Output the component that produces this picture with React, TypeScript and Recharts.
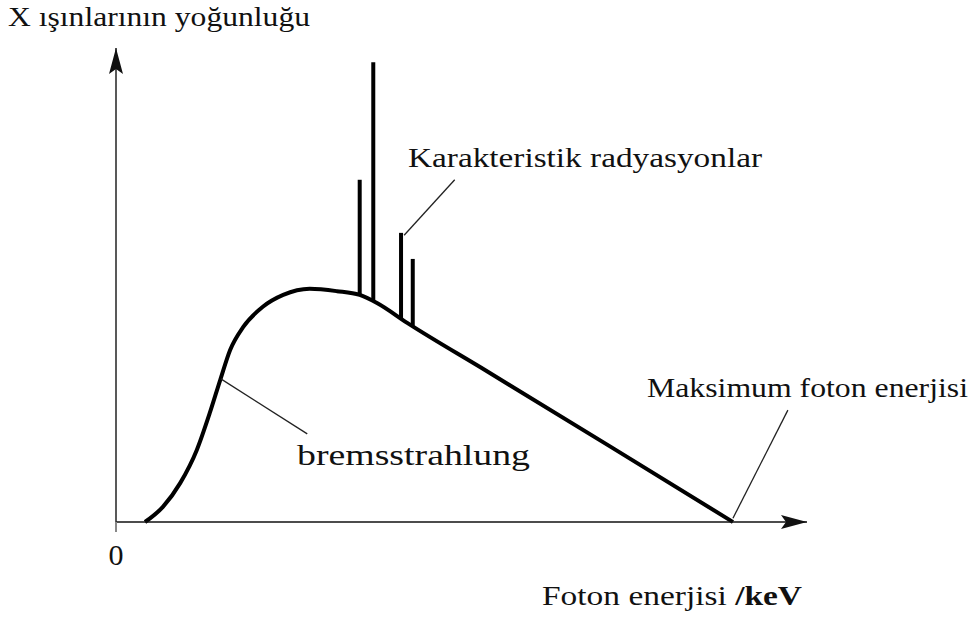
import { ComposedChart, Customized, Line, ReferenceLine, XAxis, YAxis } from 'recharts';

// bremsstrahlung continuum (energy in keV-ish units, intensity in arbitrary units)
const curveEnergy = [4.7, 7.6, 10.4, 13.1, 15.2, 16.9, 18.5, 20.6, 23.8, 27.1, 31.4, 35.8, 39.5, 42.3, 47.2, 60, 80, 100];
const curveIntensity = [0, 3.2, 8.2, 15.2, 23.0, 30.0, 36.3, 41.1, 45.4, 47.9, 49.2, 48.7, 47.9, 46.2, 42.0, 31.9, 16.0, 0];

// characteristic lines
const spikeEnergy = [39.5, 41.7, 46.2, 48.1];
const spikeBase = [47.9, 46.6, 42.8, 41.4];
const spikeTop = [72.2, 97.0, 61.0, 55.5];

const xTicks = [0];

// leader lines for the callouts: [x1, y1, x2, y2] in data units
const leaders = [
  [17.0, 30.2, 31.0, 18.6],
  [46.7, 60.5, 54.9, 72.2],
  [100, 0.8, 108.9, 23.6],
];

const curveData = curveEnergy.map((e, i) => ({ energy: e, intensity: curveIntensity[i] }));

const serif = 'Liberation Serif, Times New Roman, Times, serif';

const Labels = () => (
  <g style={{ fontFamily: serif }} fill="#111">
    <text x={8} y={26} fontSize={28} textLength={302} lengthAdjust="spacingAndGlyphs">
      X ışınlarının yoğunluğu
    </text>
    <text x={408} y={167} fontSize={27} textLength={354} lengthAdjust="spacingAndGlyphs">
      Karakteristik radyasyonlar
    </text>
    <text x={297} y={465} fontSize={29} textLength={233} lengthAdjust="spacingAndGlyphs">
      bremsstrahlung
    </text>
    <text x={647} y={397} fontSize={27} textLength={321} lengthAdjust="spacingAndGlyphs">
      Maksimum foton enerjisi
    </text>
    <text x={542} y={605} fontSize={27} textLength={260} lengthAdjust="spacingAndGlyphs">
      Foton enerjisi <tspan fontWeight="bold">/keV</tspan>
    </text>
  </g>
);

export default function App() {
  return (
    <div style={{ position: 'absolute', left: 0, top: 0, background: '#fff' }}>
      <ComposedChart
        width={978}
        height={617}
        data={curveData}
        margin={{ top: 48, right: 171, bottom: 55, left: 106 }}
      >
        <defs>
          <marker
            id="arrowHead"
            viewBox="0 0 26 14"
            refX={26}
            refY={7}
            markerWidth={26}
            markerHeight={14}
            markerUnits="userSpaceOnUse"
            orient="auto-start-reverse"
          >
            <path d="M0,0 L26,7 L0,14 L5,7 z" fill="#111" />
          </marker>
        </defs>
        <XAxis
          type="number"
          dataKey="energy"
          domain={[0, 112]}
          ticks={xTicks}
          height={40}
          axisLine={{ stroke: '#111', strokeWidth: 1.5, markerEnd: 'url(#arrowHead)' }}
          tickLine={{ stroke: '#888', strokeWidth: 2 }}
          tickSize={10}
          tickMargin={12}
          tick={{ fill: '#111', fontSize: 30, fontFamily: serif }}
        />
        <YAxis
          type="number"
          domain={[0, 100]}
          width={10}
          tick={false}
          tickLine={false}
          axisLine={{ stroke: '#222', strokeWidth: 1.5, markerStart: 'url(#arrowHead)' }}
        />
        <Line
          type="monotone"
          dataKey="intensity"
          stroke="#000"
          strokeWidth={4}
          dot={false}
          activeDot={false}
          isAnimationActive={false}
        />
        {spikeEnergy.map((e, i) => (
          <ReferenceLine
            key={`spike-${i}`}
            segment={[
              { x: e, y: spikeBase[i] },
              { x: e, y: spikeTop[i] },
            ]}
            stroke="#000"
            strokeWidth={4}
          />
        ))}
        {leaders.map((l, i) => (
          <ReferenceLine
            key={`leader-${i}`}
            segment={[
              { x: l[0], y: l[1] },
              { x: l[2], y: l[3] },
            ]}
            stroke="#222"
            strokeWidth={1.3}
          />
        ))}
        <Customized component={Labels} />
      </ComposedChart>
    </div>
  );
}
